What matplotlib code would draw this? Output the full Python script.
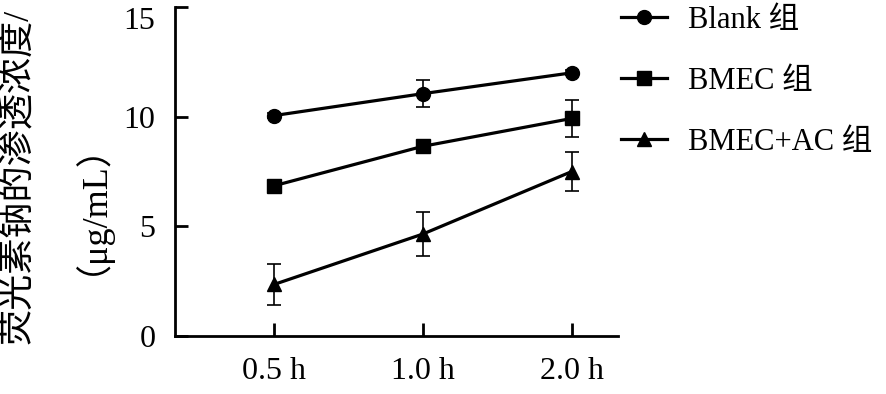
import matplotlib
matplotlib.use("Agg")
import matplotlib.pyplot as plt

plt.rcParams['font.family'] = ['Liberation Serif', 'Noto Sans CJK SC']

times = ["0.5 h", "1.0 h", "2.0 h"]
blank = [10.05, 11.05, 12.0]
blank_err = [0.1, 0.6, 0.12]
bmec = [6.85, 8.65, 9.92]
bmec_err = [0.22, 0.1, 0.84]
bmec_ac = [2.35, 4.65, 7.5]
bmec_ac_err = [0.95, 1.02, 0.89]

labels = ["Blank 组", "BMEC 组", "BMEC+AC 组"]
markers = ["o", "s", "^"]

fig = plt.figure(figsize=(8.86, 3.94), dpi=100)
ax = fig.add_axes([0.1975, 0.1472, 0.5, 0.835])

x = list(range(len(times)))
for y, e, m, lab in zip([blank, bmec, bmec_ac], [blank_err, bmec_err, bmec_ac_err], markers, labels):
    ax.errorbar(x, y, yerr=e, color="k", lw=2.3, marker=m, ms=10,
                ecolor="k", elinewidth=1.2, capsize=5, capthick=1.2, label=lab)

ax.set_xlim(-0.665, 2.31)
ax.set_ylim(0, 15)
ax.set_yticks([0, 5, 10, 15])
ax.set_xticks(x)
ax.set_xticklabels(times)
ax.spines['top'].set_visible(False)
ax.spines['right'].set_visible(False)
for s in ['left', 'bottom']:
    ax.spines[s].set_linewidth(2)
ax.tick_params(axis='y', direction='in', length=9, width=2, pad=14, labelsize=23)
ax.tick_params(axis='x', direction='in', length=9.5, width=2, pad=15, labelsize=23)
ax.get_yticklabels()[-1].set_va('top')

fig.text(0.021, 0.553, "荧光素钠的渗透浓度/", rotation=90, ha='center', va='center', fontsize=26)
fig.text(0.081, 0.518, "（μg/mL）", rotation=90, ha='center', va='center', fontsize=26)

handles, labs = ax.get_legend_handles_labels()
handles = [h[0] for h in handles]
fig.legend(handles, labs, loc='upper left', bbox_to_anchor=(0.67, 1.055), frameon=False,
           fontsize=22, handlelength=1.5, handletextpad=0.7, labelspacing=1.05)

fig.savefig("out.png", dpi=100)
